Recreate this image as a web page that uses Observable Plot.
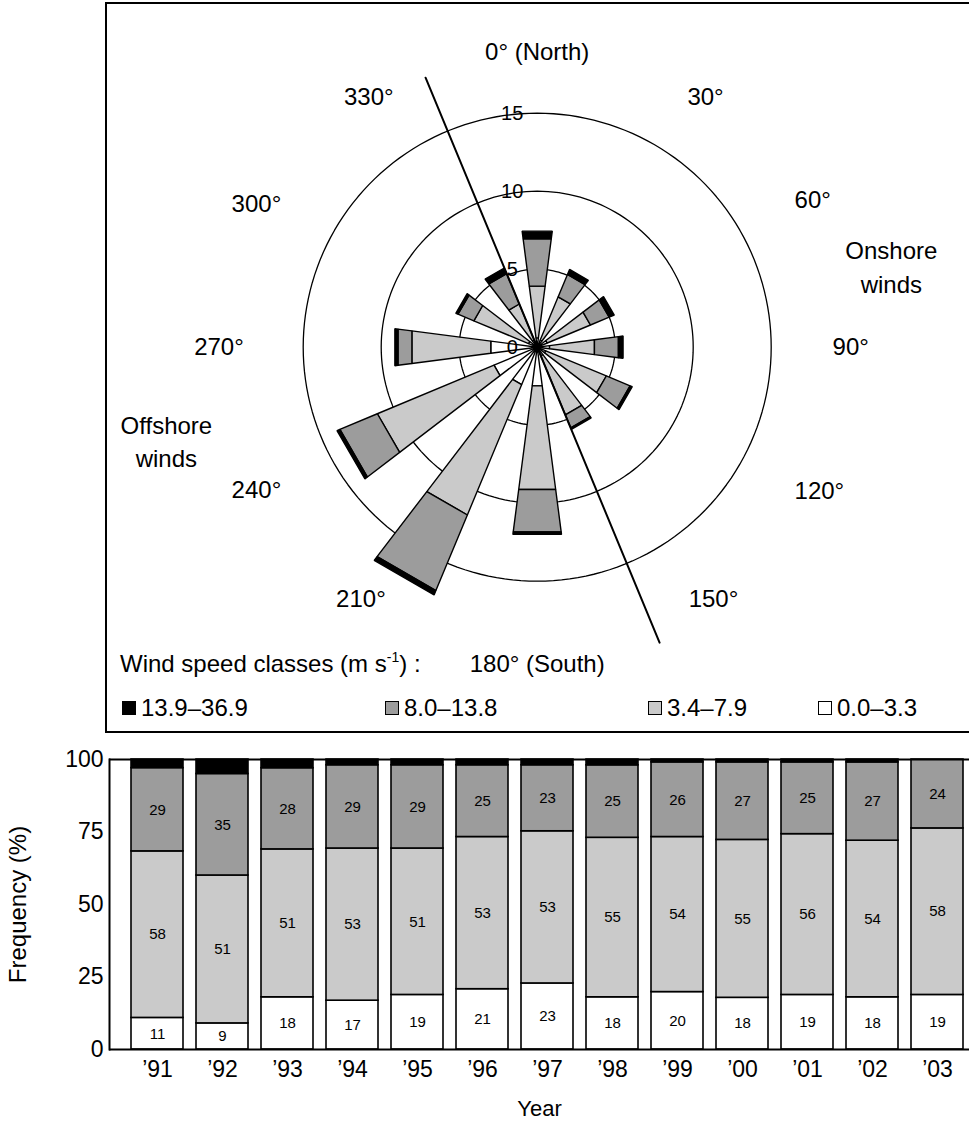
<!DOCTYPE html>
<html>
<head>
<meta charset="utf-8">
<script src="https://cdn.jsdelivr.net/npm/d3@7"></script>
<script src="https://cdn.jsdelivr.net/npm/@observablehq/plot@0.6"></script>
<style>
  html, body { margin: 0; padding: 0; background: #fff; }
  body { font-family: "Liberation Sans", Arial, Helvetica, sans-serif; color: #000; }
  #page { position: relative; width: 969px; height: 1129px; overflow: hidden; }
  #rosePanel { position: absolute; left: 0; top: 0; width: 969px; height: 734px; }
  #roseFrame { position: absolute; left: 105px; top: 2px; width: 900px; height: 731px; border: 2px solid #000; box-sizing: border-box; }
  #roseChart { position: absolute; left: 0; top: 0; }
  .legend-title { position: absolute; left: 120px; top: 650px; font-size: 24px; line-height: 28px; white-space: nowrap; }
  .legend-title sup { font-size: 14px; vertical-align: 10px; line-height: 0; }
  .legend-item { position: absolute; top: 694px; font-size: 24px; line-height: 28px; white-space: nowrap; display: flex; align-items: center; }
  .swatch { width: 14px; height: 14px; border: 1.5px solid #000; box-sizing: border-box; margin-right: 5px; }
  #barChart { position: absolute; left: 0; top: 734px; }
</style>
</head>
<body>
<div id="page">
  <div id="rosePanel">
    <div id="roseFrame"></div>
    <div id="roseChart"></div>
    <div class="legend-title">Wind speed classes (m s<sup>-1</sup>) :</div>
    <div id="legend"></div>
  </div>
  <div id="barChart"></div>
</div>
<script>
// ---- Wind rose: frequency (%) of each wind speed class per direction ----
const directions = [0, 30, 60, 90, 120, 150, 180, 210, 240, 270, 300, 330];
const directionLabels = ["0° (North)", "30°", "60°", "90°", "120°", "150°", "180° (South)", "210°", "240°", "270°", "300°", "330°"];
const speedClasses = ["0.0–3.3", "3.4–7.9", "8.0–13.8", "13.9–36.9"];
const roseCalm   = [0.6, 0.5, 0.7, 0.8, 0.6, 0.6, 2.5, 2.6, 3.0, 3.0, 0.6, 0.5];
const roseLight  = [3.35, 3.0, 3.0, 2.9, 4.2, 4.1, 6.7, 9.05, 8.1, 5.1, 3.8, 2.5];
const roseStrong = [3.05, 1.55, 1.3, 1.55, 1.65, 0.9, 2.75, 5.25, 2.6, 0.9, 1.1, 2.1];
const roseGale   = [0.5, 0.35, 0.35, 0.3, 0.15, 0.1, 0.15, 0.3, 0.2, 0.2, 0.15, 0.4];
const ringValues = [5, 10, 15];
const ringLabels = [0, 5, 10, 15];
// shoreline direction through the station (bearing, extent in %)
const shoreBearings = [337.5, 157.5];
const shoreExtent = [18.7, 20.5];

// ---- Yearly frequency (%) of each speed class ----
const years = ["’91", "’92", "’93", "’94", "’95", "’96", "’97", "’98", "’99", "’00", "’01", "’02", "’03"];
const yearCalm   = [11, 9, 18, 17, 19, 21, 23, 18, 20, 18, 19, 18, 19];
const yearLight  = [58, 51, 51, 53, 51, 53, 53, 55, 54, 55, 56, 54, 58];
const yearStrong = [29, 35, 28, 29, 29, 25, 23, 25, 26, 27, 25, 27, 24];
const yearGale   = [3, 5, 3, 2, 2, 2, 2, 2, 1, 1, 1, 1, 0];

const FONT = '"Liberation Sans", Arial, Helvetica, sans-serif';
const classFills = ["#ffffff", "#cacaca", "#9c9c9c", "#000000"];

// ---------- wind rose ----------
const pxPerPct = 15.6;               // radial scale: pixels per percent
const cx = 536.7, cy = 346.7;        // rose centre within the panel
const roseW = 969, roseH = 734;
const rad = Math.PI / 180;
const polar = (r, deg) => ({x: r * Math.sin(deg * rad), y: r * Math.cos(deg * rad)});
const halfWidth = 7.4;               // half angular width of each petal

const roseSeries = [roseCalm, roseLight, roseStrong, roseGale];
const petals = directions.flatMap((deg, i) => {
  const vals = roseSeries.map(s => s[i]);
  const edges = d3.cumsum(vals);
  return vals.map((v, j) => ({deg, cls: speedClasses[j], lo: j ? edges[j - 1] : 0, hi: edges[j]}));
});
const petalPoints = petals.flatMap((p, id) =>
  [[p.lo, p.deg - halfWidth], [p.hi, p.deg - halfWidth], [p.hi, p.deg + halfWidth], [p.lo, p.deg + halfWidth]]
    .map(([r, a]) => ({id, cls: p.cls, ...polar(r, a)}))
);
const ringPoints = ringValues.flatMap(v => d3.range(0, 360, 2).map(a => ({ring: v, ...polar(v, a)})));
const shorePoints = shoreBearings.map((b, i) => polar(shoreExtent[i], b));

// where each bearing label sits: [radius %, bearing]
const labelPlacement = {0: [18.9, 0], 30: [19.3, 34], 60: [20.0, 62], 90: [20.1, 90], 120: [20.3, 117], 150: [19.7, 145],
  180: [20.3, 180], 210: [19.7, 215], 240: [20.2, 243], 270: [20.4, 270], 300: [20.2, 297], 330: [19.3, 326]};
const labelPos = d => polar(...labelPlacement[d]);

const rose = Plot.plot({
  width: roseW, height: roseH,
  marginTop: 0, marginRight: 0, marginBottom: 0, marginLeft: 0,
  style: {fontFamily: FONT, fontSize: "24px", color: "#000", background: "transparent"},
  x: {domain: [-cx / pxPerPct, (roseW - cx) / pxPerPct], axis: null},
  y: {domain: [-(roseH - cy) / pxPerPct, cy / pxPerPct], axis: null},
  color: {domain: speedClasses, range: classFills},
  marks: [
    Plot.line(ringPoints, {x: "x", y: "y", z: "ring", curve: "linear-closed", stroke: "#000", strokeWidth: 1.3}),
    Plot.line(petalPoints, {x: "x", y: "y", z: "id", fill: "cls", curve: "linear-closed", stroke: "#000", strokeWidth: 1.4, strokeLinejoin: "miter"}),
    Plot.dot([polar(0, 0)], {x: "x", y: "y", r: 4, fill: "#000"}),
    Plot.line(shorePoints, {x: "x", y: "y", stroke: "#000", strokeWidth: 2}),
    Plot.text(ringLabels, {x: -1.6, y: d => d, text: d => String(d), fontSize: 20}),
    Plot.text(directions, {x: d => labelPos(d).x, y: d => labelPos(d).y, text: (d, i) => directionLabels[i], fontSize: 24}),
    Plot.text(["Onshore\nwinds"], {x: polar(23.3, 77).x, y: polar(23.3, 77).y, fontSize: 24, lineHeight: 1.38}),
    Plot.text(["Offshore\nwinds"], {x: polar(24.5, 256).x, y: polar(24.5, 256).y, fontSize: 24, lineHeight: 1.38})
  ]
});
document.getElementById("roseChart").append(rose);

// legend: strongest class first
const legendLeft = [122, 385, 648, 818];
const legend = document.getElementById("legend");
[3, 2, 1, 0].forEach((k, i) => {
  const item = document.createElement("div");
  item.className = "legend-item";
  item.style.left = legendLeft[i] + "px";
  const sw = document.createElement("span");
  sw.className = "swatch";
  sw.style.background = classFills[k];
  item.append(sw, document.createTextNode(speedClasses[k]));
  legend.append(item);
});

// ---------- stacked yearly bars ----------
const yearSeries = [yearCalm, yearLight, yearStrong, yearGale];
const rows = years.flatMap((year, i) => yearSeries.map((s, j) => ({year, cls: speedClasses[j], value: s[i]})));

const bars = Plot.plot({
  width: 969, height: 395,
  marginTop: 25, marginRight: 0, marginBottom: 80, marginLeft: 109,
  style: {fontFamily: FONT, fontSize: "23px", color: "#000", background: "transparent", overflow: "visible"},
  x: {domain: years, paddingInner: 0.197, paddingOuter: 0.115, align: 0.79},
  y: {percent: true, domain: [0, 100]},
  color: {domain: speedClasses, range: classFills},
  marks: [
    Plot.ruleY([25, 50, 75], {stroke: "#000", strokeWidth: 1.3}),
    Plot.barY(rows, Plot.stackY({offset: "normalize", x: "year", y: "value", fill: "cls", stroke: "#000", strokeWidth: 1.6})),
    Plot.text(rows, Plot.stackY({offset: "normalize", x: "year", y: "value",
      text: d => d.cls === speedClasses[3] ? null : String(d.value), fontSize: 15})),
    Plot.ruleY([0, 1], {stroke: "#000", strokeWidth: 2}),
    Plot.frame({anchor: "left", stroke: "#000", strokeWidth: 2}),
    Plot.axisY({ticks: [0, 25, 50, 75, 100], tickSize: 0, tickPadding: 6, label: null, fontSize: 23}),
    Plot.axisX({tickSize: 0, tickPadding: 11, label: null, fontSize: 23}),
    Plot.text(["Year"], {frameAnchor: "bottom", dy: 59, lineAnchor: "middle", textAnchor: "middle", fontSize: 22}),
    Plot.text(["Frequency (%)"], {frameAnchor: "left", dx: -91, rotate: -90, textAnchor: "middle", lineAnchor: "middle", fontSize: 24})
  ]
});
document.getElementById("barChart").append(bars);
</script>
</body>
</html>
